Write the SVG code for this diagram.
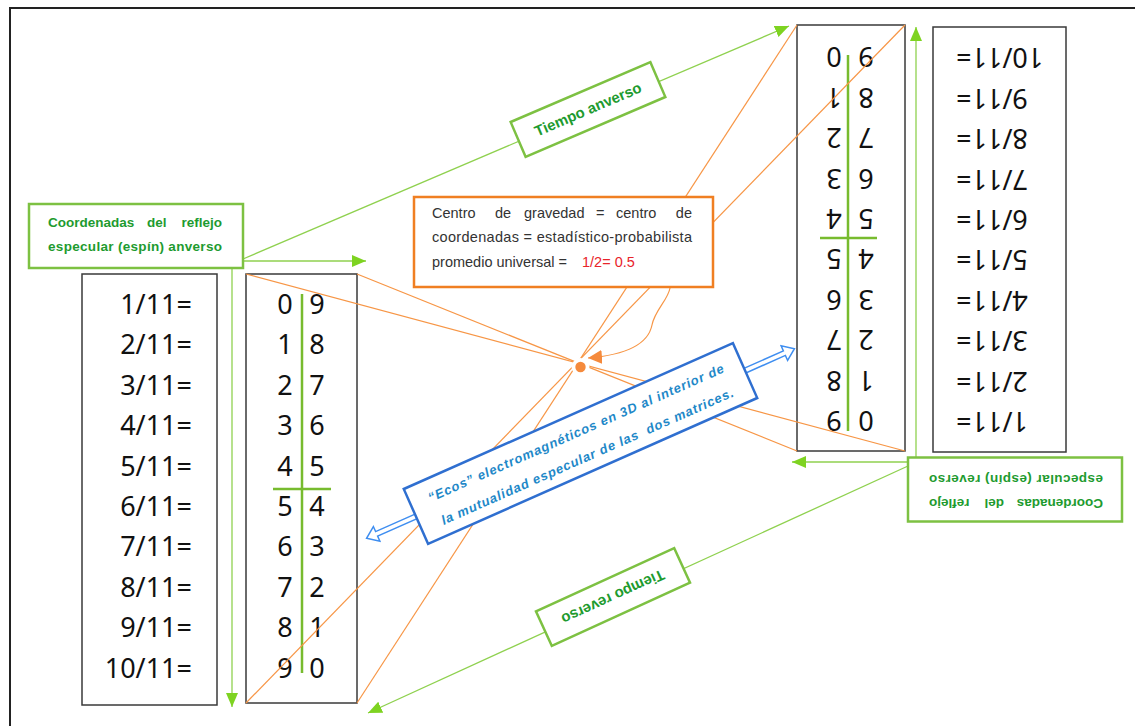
<svg xmlns="http://www.w3.org/2000/svg" width="1135" height="726" viewBox="0 0 1135 726">
<style>
.num{font-family:"Noto Sans","Open Sans","DejaVu Sans",sans-serif;font-size:27px;fill:#111}
.lbl{font-family:"Liberation Sans",Arial,sans-serif;font-weight:bold;font-size:13.5px;fill:#1e9b2f}
.tl{font-family:"Liberation Sans",Arial,sans-serif;font-weight:bold;font-size:15px;fill:#1e9b2f}
.otx{font-family:"Liberation Sans",Arial,sans-serif;font-size:14.5px;fill:#333}
.btx{font-family:"Liberation Sans",Arial,sans-serif;font-weight:bold;font-style:italic;font-size:13px;fill:#1e88c8}
.box{fill:#fff;stroke:#3a3a3a;stroke-width:1.5}
.gbox{fill:#fff;stroke:#7dc142;stroke-width:2.5}
.gline{stroke:#8fd14f;stroke-width:1.3;fill:none}
.oline{stroke:#f79646;stroke-width:1.2;fill:none}
.mline{stroke:#77bb2e;stroke-width:2.5}
.barr{fill:#fff;stroke:#3f8ef0;stroke-width:1.5;stroke-linejoin:miter}
</style>
<defs>
<marker id="ga" viewBox="0 0 14 12" refX="14" refY="6" markerWidth="14" markerHeight="12" markerUnits="userSpaceOnUse" orient="auto"><path d="M0,0 L14,6 L0,12 z" fill="#7ed321"/></marker>
<marker id="oa" viewBox="0 0 14 14" refX="14" refY="7" markerWidth="14" markerHeight="14" markerUnits="userSpaceOnUse" orient="auto"><path d="M0,0 L14,7 L0,14 z" fill="#f58a3c"/></marker>
</defs>
<rect width="1135" height="726" fill="#fff"/>
<path d="M10 726 V8 H1135" fill="none" stroke="#222" stroke-width="2"/>

<g id="numbers-left" transform="translate(82 274)">
<rect class="box" width="135" height="431"/>
<g class="num" text-anchor="end">
<text x="110" y="40">1/11=</text><text x="110" y="80.4">2/11=</text><text x="110" y="120.8">3/11=</text><text x="110" y="161.2">4/11=</text><text x="110" y="201.6">5/11=</text><text x="110" y="242">6/11=</text><text x="110" y="282.4">7/11=</text><text x="110" y="322.8">8/11=</text><text x="110" y="363.2">9/11=</text><text x="110" y="403.6">10/11=</text>
</g></g>

<g id="matrix-left" transform="translate(246 274)">
<rect class="box" width="111" height="429"/>
<line class="mline" x1="56" y1="20" x2="56" y2="399"/><line class="mline" x1="27" y1="215" x2="85" y2="215"/>
<g class="num" text-anchor="middle">
<text x="39" y="40">0</text><text x="39" y="80.4">1</text><text x="39" y="120.8">2</text><text x="39" y="161.2">3</text><text x="39" y="201.6">4</text><text x="39" y="242">5</text><text x="39" y="282.4">6</text><text x="39" y="322.8">7</text><text x="39" y="363.2">8</text><text x="39" y="403.6">9</text>
<text x="71" y="40">9</text><text x="71" y="80.4">8</text><text x="71" y="120.8">7</text><text x="71" y="161.2">6</text><text x="71" y="201.6">5</text><text x="71" y="242">4</text><text x="71" y="282.4">3</text><text x="71" y="322.8">2</text><text x="71" y="363.2">1</text><text x="71" y="403.6">0</text>
</g></g>

<g id="matrix-right" transform="translate(905 451) rotate(180)">
<rect class="box" width="108" height="426"/>
<line class="mline" x1="57" y1="20" x2="57" y2="396"/><line class="mline" x1="28" y1="213" x2="85" y2="213"/>
<g class="num" text-anchor="middle">
<text x="39" y="40">0</text><text x="39" y="80.4">1</text><text x="39" y="120.8">2</text><text x="39" y="161.2">3</text><text x="39" y="201.6">4</text><text x="39" y="242">5</text><text x="39" y="282.4">6</text><text x="39" y="322.8">7</text><text x="39" y="363.2">8</text><text x="39" y="403.6">9</text>
<text x="71" y="40">9</text><text x="71" y="80.4">8</text><text x="71" y="120.8">7</text><text x="71" y="161.2">6</text><text x="71" y="201.6">5</text><text x="71" y="242">4</text><text x="71" y="282.4">3</text><text x="71" y="322.8">2</text><text x="71" y="363.2">1</text><text x="71" y="403.6">0</text>
</g></g>

<g id="numbers-right" transform="translate(1066 452) rotate(180)">
<rect class="box" width="133" height="425"/>
<g class="num" text-anchor="end">
<text x="110" y="40">1/11=</text><text x="110" y="80.4">2/11=</text><text x="110" y="120.8">3/11=</text><text x="110" y="161.2">4/11=</text><text x="110" y="201.6">5/11=</text><text x="110" y="242">6/11=</text><text x="110" y="282.4">7/11=</text><text x="110" y="322.8">8/11=</text><text x="110" y="363.2">9/11=</text><text x="110" y="403.6">10/11=</text>
</g></g>

<g id="connectors">
<line class="oline" x1="246" y1="274" x2="905" y2="451"/>
<line class="oline" x1="357" y1="274" x2="797" y2="451"/>
<line class="oline" x1="246" y1="703" x2="905" y2="25"/>
<line class="oline" x1="357" y1="703" x2="797" y2="25"/>
<circle cx="580.5" cy="367" r="9" fill="#fff"/>
<path class="oline" d="M670 288 C668 300,655 310,652 325 C648 345,625 355,588 358" marker-end="url(#oa)"/>
<line class="gline" x1="232" y1="268" x2="232" y2="707" marker-end="url(#ga)"/>
<line class="gline" x1="243" y1="261" x2="366" y2="261" marker-end="url(#ga)"/>
<line class="gline" x1="243" y1="259" x2="789" y2="26" marker-end="url(#ga)"/>
<line class="gline" x1="916" y1="457" x2="916" y2="27" marker-end="url(#ga)"/>
<line class="gline" x1="908" y1="462" x2="792" y2="462" marker-end="url(#ga)"/>
<line class="gline" x1="908" y1="466" x2="368" y2="713" marker-end="url(#ga)"/>
<g transform="translate(580.5 443.5) rotate(-23.9)">
<path class="barr" d="M178,-2.5 H223 V-8 L234,0 L223,8 V2.5 H178 Z"/>
<path class="barr" d="M-178,-2.5 H-223 V-8 L-234,0 L-223,8 V2.5 H-178 Z"/>
</g>
</g>

<g id="center-dot"><circle cx="580.5" cy="367" r="5.2" fill="#f58a3c"/></g>

<g id="label-left" transform="translate(136 236)">
<rect class="gbox" x="-107" y="-32" width="214" height="64"/>
<text class="lbl" x="-88" y="-9">Coordenadas</text><text class="lbl" x="11" y="-9">del</text><text class="lbl" x="86" y="-9" text-anchor="end">reflejo</text>
<text class="lbl" x="-88" y="15" textLength="174" lengthAdjust="spacing">especular (espín) anverso</text>
</g>

<g id="label-right" transform="translate(1015 489.5) rotate(180)">
<rect class="gbox" x="-107" y="-32" width="214" height="64"/>
<text class="lbl" x="-88" y="-9">Coordenadas</text><text class="lbl" x="11" y="-9">del</text><text class="lbl" x="86" y="-9" text-anchor="end">reflejo</text>
<text class="lbl" x="-88" y="15" textLength="174" lengthAdjust="spacing">especular (espín) reverso</text>
</g>

<g id="tiempo-anverso" transform="translate(588 109.5) rotate(-23.2)">
<rect class="gbox" x="-76" y="-19" width="152" height="38" stroke-width="2.2"/>
<text class="tl" x="0" y="5" text-anchor="middle">Tiempo anverso</text>
</g>

<g id="tiempo-reverso" transform="translate(613 597) rotate(-24.6)">
<rect class="gbox" x="-76" y="-19" width="152" height="38" stroke-width="2.2"/>
<text class="tl" x="0" y="5" text-anchor="middle" transform="rotate(180)">Tiempo reverso</text>
</g>

<g id="center-box">
<rect x="414" y="197" width="299" height="90" fill="#fff" stroke="#f07f22" stroke-width="2.5"/>
<text class="otx" x="432" y="218">Centro</text><text class="otx" x="495" y="218">de</text><text class="otx" x="524" y="218">gravedad</text><text class="otx" x="596" y="218">=</text><text class="otx" x="616" y="218">centro</text><text class="otx" x="692" y="218" text-anchor="end">de</text>
<text class="otx" x="432" y="242" textLength="260" lengthAdjust="spacing">coordenadas = estadístico-probabilista</text>
<text class="otx" x="432" y="267">promedio universal =</text><text class="otx" x="582" y="267" fill="#e8242a" style="fill:#e8242a">1/2= 0.5</text>
</g>

<g id="echo-box" transform="translate(580.5 443.5) rotate(-23.9)">
<rect x="-180" y="-30" width="360" height="60" fill="#fff" stroke="#2f6fd0" stroke-width="2.5"/>
<text class="btx" x="-161" y="-7" textLength="322" lengthAdjust="spacing" xml:space="preserve">“Ecos” electromagnéticos en 3D al interior de</text>
<text class="btx" x="-158" y="19" textLength="318" lengthAdjust="spacing" xml:space="preserve">la mutualidad especular de las  dos matrices.</text>
</g>
</svg>
